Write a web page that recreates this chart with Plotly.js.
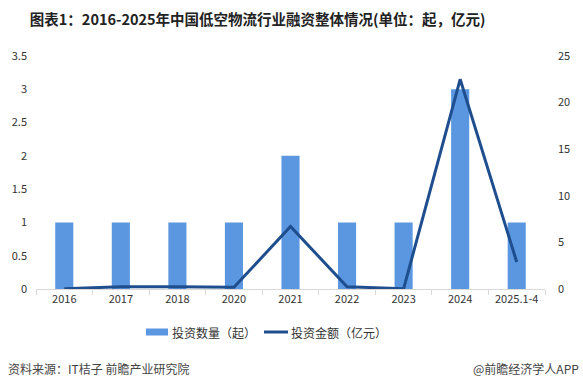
<!DOCTYPE html>
<html><head><meta charset="utf-8">
<script src="https://cdn.plot.ly/plotly-3.0.1.min.js"></script>
<style>html,body{margin:0;padding:0;background:#fff}#c{width:583px;height:388px}</style>
</head><body><div id="c"></div>
<script>
const categories = ["2016","2017","2018","2020","2021","2022","2023","2024","2025.1-4"];
const dealCount = [1,1,1,1,2,1,1,3,1];
const dealAmount = [0.02,0.25,0.25,0.18,6.7,0.25,0.02,22.5,2.9];
const seriesNames = ['投资数量（起）','投资金额（亿元）'];
const barColor = '#5B97E0', lineColor = '#1F4E8F';
const F = "'Noto Sans CJK SC','Microsoft YaHei',sans-serif";
const data = [
  {type:'bar', x:categories, y:dealCount, name:seriesNames[0], marker:{color:barColor}, yaxis:'y'},
  {type:'scatter', mode:'lines', x:categories, y:dealAmount, name:seriesNames[1], line:{color:lineColor, width:3}, yaxis:'y2'}
];
// pixel helpers for paper coords (plot area: x 36..545, y 56..289)
const px = v => (v-36)/509, py = v => (289-v)/233;
const layout = {
  width:583, height:388,
  margin:{l:36, r:38, t:56, b:99},
  paper_bgcolor:'#fff', plot_bgcolor:'#fff',
  font:{family:F, size:11, color:'#333'},
  title:{text:'<b>图表1：2016-2025年中国低空物流行业融资整体情况(单位：起，亿元)</b>', x:0.442, xanchor:'center', y:0.948, yanchor:'middle', font:{family:F, size:14.5, color:'#222'}},
  bargap:0.68,
  xaxis:{type:'category', showline:true, linecolor:'#d9d9d9', linewidth:1, ticks:'outside', tickson:'boundaries', ticklen:5, tickcolor:'#d9d9d9', showgrid:false, tickfont:{size:11, color:'#333'}},
  yaxis:{range:[0,3.5], dtick:0.5, showgrid:false, zeroline:false, showline:false, tickfont:{size:11, color:'#333'}, ticklabelstandoff:8},
  yaxis2:{range:[0,25], dtick:5, overlaying:'y', side:'right', showgrid:false, zeroline:false, showline:false, tickfont:{size:11, color:'#333'}, ticklabelstandoff:12},
  showlegend:false,
  shapes:[
    {type:'rect', xref:'paper', yref:'paper', x0:px(146), x1:px(168), y0:py(335.5), y1:py(328.5), fillcolor:barColor, line:{width:0}},
    {type:'line', xref:'paper', yref:'paper', x0:px(264), x1:px(288), y0:py(332), y1:py(332), line:{color:lineColor, width:3}}
  ],
  annotations:[
    {text:seriesNames[0], xref:'paper', yref:'paper', x:px(170), xanchor:'left', y:py(332), yanchor:'middle', showarrow:false, font:{family:F, size:12, color:'#333'}},
    {text:seriesNames[1], xref:'paper', yref:'paper', x:px(289), xanchor:'left', y:py(332), yanchor:'middle', showarrow:false, font:{family:F, size:12, color:'#333'}},
    {text:'资料来源：IT桔子 前瞻产业研究院', xref:'paper', yref:'paper', x:px(6), xanchor:'left', y:py(368), yanchor:'middle', showarrow:false, font:{family:F, size:12, color:'#444'}},
    {text:'@前瞻经济学人APP', xref:'paper', yref:'paper', x:px(581), xanchor:'right', y:py(368), yanchor:'middle', showarrow:false, font:{family:F, size:12, color:'#444'}}
  ]
};
Plotly.newPlot('c', data, layout, {displayModeBar:false, staticPlot:true});
</script></body></html>
